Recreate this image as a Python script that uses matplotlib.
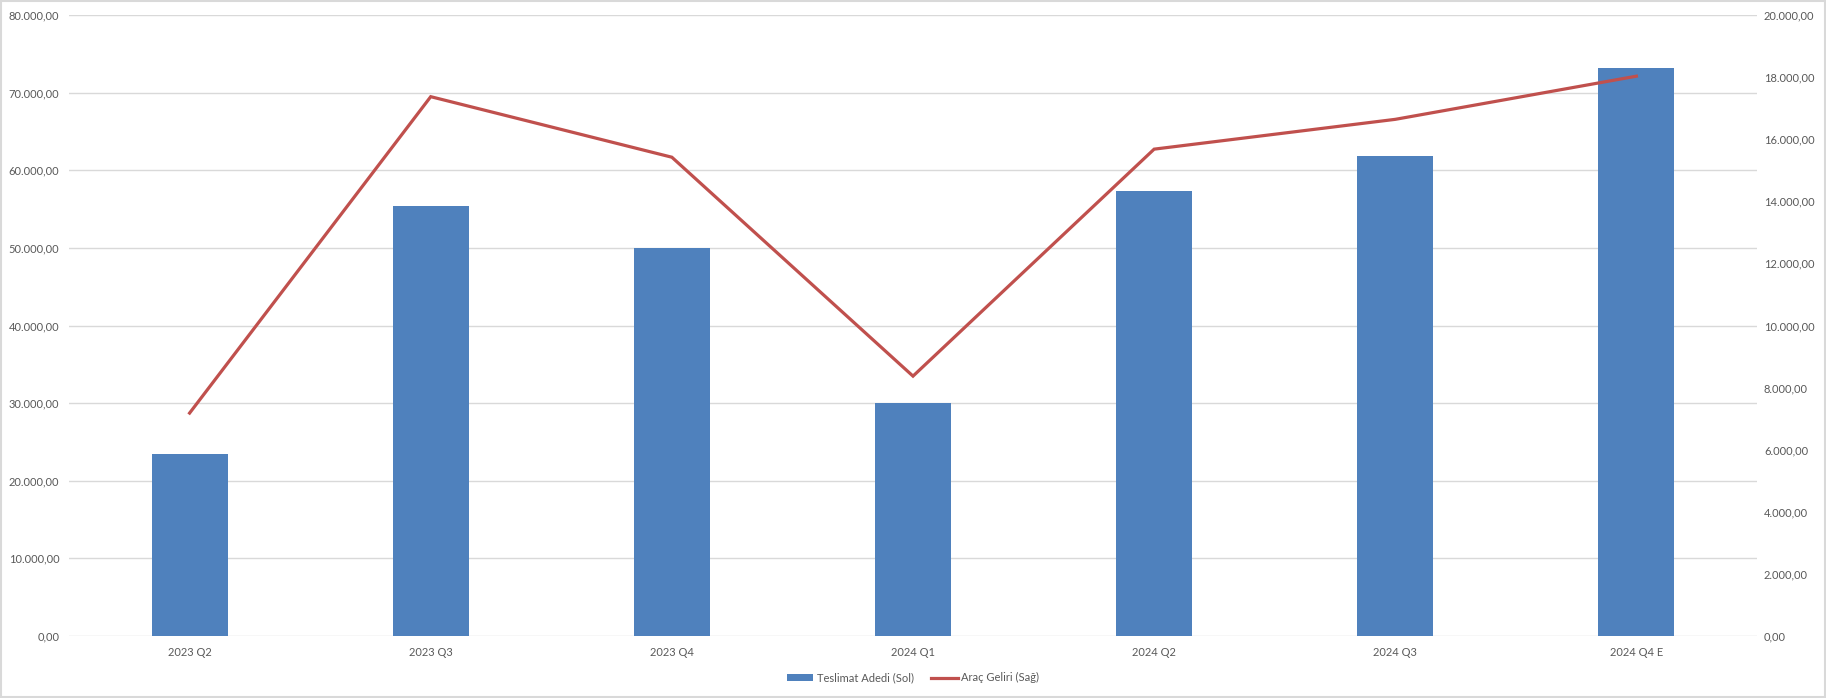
import numpy as np
import matplotlib
matplotlib.use("Agg")
import matplotlib.pyplot as plt
from matplotlib.ticker import FuncFormatter, MultipleLocator
from matplotlib.patches import Rectangle

# veriler
quarters = ["2023 Q2", "2023 Q3", "2023 Q4", "2024 Q1", "2024 Q2", "2024 Q3", "2024 Q4 E"]
deliveries = [23450, 55400, 50000, 30000, 57300, 61800, 73200]
revenue = [7180, 17370, 15420, 8370, 15680, 16640, 18030]

bar_color = "#4F81BD"
line_color = "#C0504D"
grid_color = "#D9D9D9"
text_color = "#595959"

plt.rcParams['font.family'] = ['Lato', 'DejaVu Sans']


def tr_format(v, pos=None):
    s = f"{v:,.2f}"
    return s.replace(",", "X").replace(".", ",").replace("X", ".")


fig = plt.figure(figsize=(18.26, 6.98), dpi=100)
ax = fig.add_axes([0.0378, 0.0888, 0.9244, 0.8897])
ax2 = ax.twinx()

x = np.arange(len(quarters))
bars = ax.bar(x, deliveries, width=0.315, color=bar_color, zorder=2,
              label="Teslimat Adedi (Sol)")
line, = ax2.plot(x, revenue, color=line_color, linewidth=2.3, zorder=3,
                 label="Araç Geliri (Sağ)", solid_joinstyle="miter")

ax.set_xlim(-0.5, len(quarters) - 0.5)
ax.set_ylim(0, 80000)
ax2.set_ylim(0, 20000)
ax.yaxis.set_major_locator(MultipleLocator(10000))
ax2.yaxis.set_major_locator(MultipleLocator(2000))
ax.yaxis.set_major_formatter(FuncFormatter(tr_format))
ax2.yaxis.set_major_formatter(FuncFormatter(tr_format))

ax.set_xticks(x)
ax.set_xticklabels(quarters)
ax.grid(axis="y", color=grid_color, linewidth=1, zorder=0)
ax.set_axisbelow(True)

for a in (ax, ax2):
    for sp in a.spines.values():
        sp.set_visible(False)
    a.tick_params(length=0, colors=text_color, labelsize=8)
ax.tick_params(axis="y", pad=7)
ax2.tick_params(axis="y", pad=5)
ax.tick_params(axis="x", pad=8)

ax.set_zorder(ax2.get_zorder() - 1)
ax.patch.set_visible(False)

fig.legend(handles=[bars, line], loc="center", bbox_to_anchor=(0.5, 0.029),
           ncol=2, frameon=False, fontsize=8, labelcolor=text_color,
           handlelength=2.4, handleheight=0.6, columnspacing=1.6, handletextpad=0.3)

fig.patches.append(Rectangle((0.0005, 0.001), 0.999, 0.998, transform=fig.transFigure,
                             fill=False, edgecolor=grid_color, linewidth=1.5))

fig.savefig("out.png", dpi=100)
